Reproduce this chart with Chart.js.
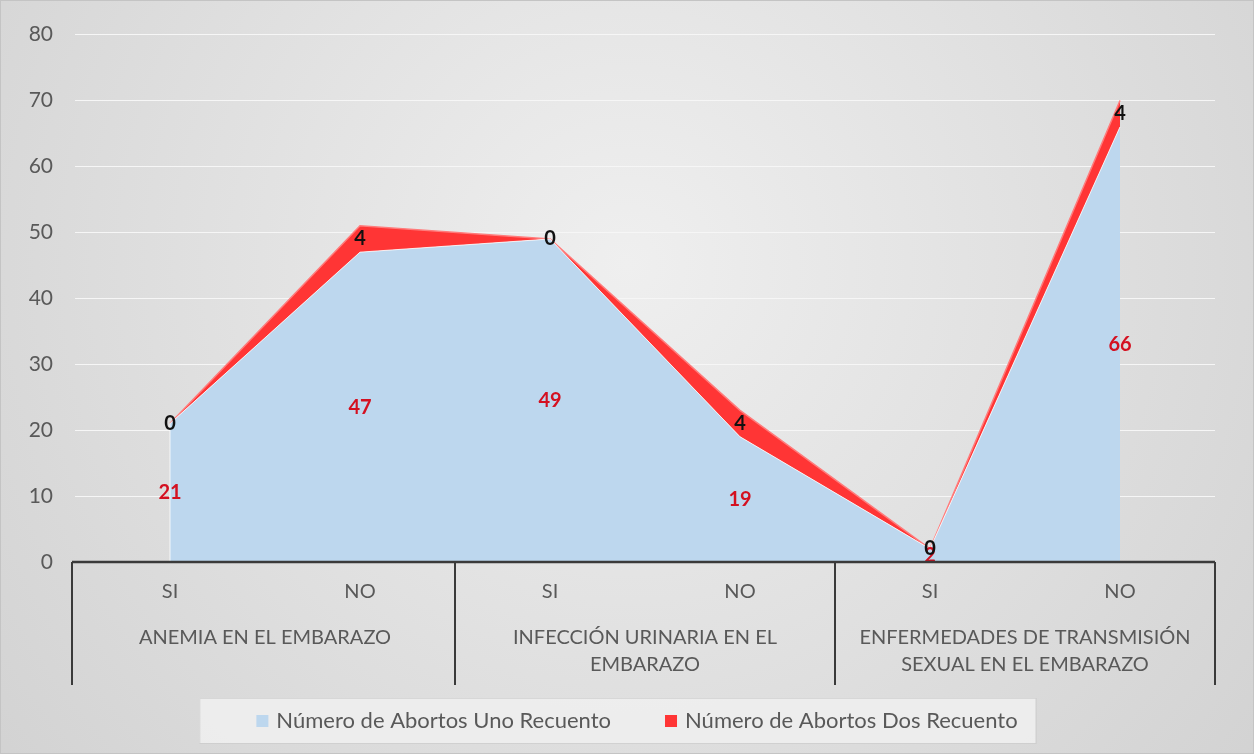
<!DOCTYPE html>
<html>
<head>
<meta charset="utf-8">
<script src="https://cdn.jsdelivr.net/npm/chart.js@4.4.1/dist/chart.umd.min.js"></script>
<style>
  html, body { margin: 0; padding: 0; background: #dcdcdc; }
  canvas { display: block; }
</style>
</head>
<body>
<canvas id="grafico" width="1254" height="754"></canvas>
<script>
// datos del gráfico
const categorias = ['SI', 'NO', 'SI', 'NO', 'SI', 'NO'];
const grupos = [
  ['ANEMIA EN EL EMBARAZO'],
  ['INFECCIÓN URINARIA EN EL', 'EMBARAZO'],
  ['ENFERMEDADES DE TRANSMISIÓN', 'SEXUAL EN EL EMBARAZO']
];
const abortosUno = [21, 47, 49, 19, 2, 66];
const abortosDos = [0, 4, 0, 4, 0, 4];
const ticksY = [0, 10, 20, 30, 40, 50, 60, 70, 80];

const fuente = 'Lato, "Noto Sans", sans-serif';
const gris = '#595959';

// fondo degradado del gráfico
const fondo = {
  id: 'fondo',
  beforeDraw(chart) {
    const ctx = chart.ctx;
    const w = chart.width, h = chart.height;
    ctx.save();
    const g = ctx.createRadialGradient(w / 2, h * 0.35, 0, w / 2, h * 0.35, w * 0.65);
    g.addColorStop(0, '#efefef');
    g.addColorStop(1, '#d2d2d2');
    ctx.fillStyle = g;
    ctx.fillRect(0, 0, w, h);
    ctx.strokeStyle = '#c4c4c4';
    ctx.lineWidth = 1;
    ctx.strokeRect(0.5, 0.5, w - 1, h - 1);
    ctx.restore();
  }
};

// etiquetas, eje de categorías agrupado y leyenda
const extras = {
  id: 'extras',
  afterDatasetsDraw(chart) {
    const ctx = chart.ctx;
    const x = chart.scales.x, y = chart.scales.y;
    const area = chart.chartArea;
    ctx.save();

    // borde izquierdo del área azul
    ctx.strokeStyle = 'rgba(255,255,255,0.8)';
    ctx.lineWidth = 1;
    const x0 = x.getPixelForValue(0);
    ctx.beginPath();
    ctx.moveTo(x0, y.getPixelForValue(0));
    ctx.lineTo(x0, y.getPixelForValue(abortosUno[0]));
    ctx.stroke();

    ctx.font = 'bold 20px ' + fuente;
    ctx.textAlign = 'center';
    ctx.textBaseline = 'middle';

    // valores de la primera serie, en el centro de su banda
    ctx.fillStyle = '#d41020';
    abortosUno.forEach((v, i) => {
      ctx.fillText(String(v), x.getPixelForValue(i), y.getPixelForValue(v / 2));
    });

    // línea del eje y separadores de grupos
    const paso = x.getPixelForValue(1) - x.getPixelForValue(0);
    ctx.strokeStyle = '#3a3a3a';
    ctx.lineWidth = 2.5;
    ctx.beginPath();
    ctx.moveTo(area.left - 3, area.bottom);
    ctx.lineTo(area.right, area.bottom);
    ctx.stroke();
    ctx.lineWidth = 2;
    for (let k = 0; k <= grupos.length; k++) {
      const px = x.getPixelForValue(k * 2) - paso / 2 - (k === 0 ? 3 : 0);
      ctx.beginPath();
      ctx.moveTo(px, area.bottom);
      ctx.lineTo(px, area.bottom + 123);
      ctx.stroke();
    }

    // valores de la segunda serie, en el centro de su banda
    ctx.fillStyle = '#111';
    abortosDos.forEach((v, i) => {
      ctx.fillText(String(v), x.getPixelForValue(i), y.getPixelForValue(abortosUno[i] + v / 2));
    });

    // etiquetas de categoría
    ctx.font = '20px ' + fuente;
    ctx.fillStyle = gris;
    categorias.forEach((c, i) => {
      ctx.fillText(c, x.getPixelForValue(i), area.bottom + 30);
    });
    grupos.forEach((lineas, k) => {
      const cx = (x.getPixelForValue(k * 2) + x.getPixelForValue(k * 2 + 1)) / 2;
      lineas.forEach((t, j) => {
        ctx.fillText(t, cx, area.bottom + 76 + j * 27);
      });
    });

    // leyenda
    ctx.font = '22px ' + fuente;
    const series = chart.data.datasets;
    const caja = 12, sep = 8, hueco = 54;
    const anchos = series.map(d => caja + sep + ctx.measureText(d.label).width);
    const total = anchos[0] + hueco + anchos[1];
    let lx = (area.left + area.right) / 2 - total / 2 - 8;
    const ly = chart.height - 34;
    ctx.fillStyle = 'rgba(240,240,240,0.85)';
    ctx.fillRect(lx - 57, ly - 22, total + 75, 45);
    ctx.strokeStyle = 'rgba(200,200,200,0.6)';
    ctx.lineWidth = 1;
    ctx.strokeRect(lx - 57 + 0.5, ly - 22 + 0.5, total + 75, 45);
    ctx.textAlign = 'left';
    series.forEach((d, i) => {
      ctx.fillStyle = d.backgroundColor;
      ctx.fillRect(lx, ly - caja / 2 + 1, caja, caja);
      ctx.fillStyle = gris;
      ctx.fillText(d.label, lx + caja + sep, ly + 1);
      lx += anchos[i] + hueco;
    });
    ctx.restore();
  }
};

new Chart(document.getElementById('grafico'), {
  type: 'line',
  data: {
    labels: categorias,
    datasets: [
      {
        label: 'Número de Abortos Uno Recuento',
        data: abortosUno,
        backgroundColor: '#bdd7ee',
        borderColor: 'rgba(255,255,255,0.8)',
        borderWidth: 1,
        fill: 'origin',
        pointRadius: 0,
        tension: 0
      },
      {
        label: 'Número de Abortos Dos Recuento',
        data: abortosDos,
        backgroundColor: '#ff3535',
        borderColor: '#ff7b7b',
        borderWidth: 1.5,
        fill: '-1',
        pointRadius: 0,
        tension: 0
      }
    ]
  },
  options: {
    responsive: false,
    animation: false,
    layout: { padding: { top: 34, right: 39, bottom: 56, left: 0 } },
    plugins: {
      legend: { display: false },
      tooltip: { enabled: false }
    },
    scales: {
      x: {
        offset: true,
        grid: { display: false },
        border: { display: false },
        ticks: { display: false },
        afterFit(s) { s.height = 136; }
      },
      y: {
        stacked: true,
        min: ticksY[0],
        max: ticksY[ticksY.length - 1],
        afterBuildTicks(s) { s.ticks = ticksY.map(v => ({ value: v })); },
        grid: { color: '#f6f6f6', lineWidth: 1, drawTicks: false },
        border: { display: false },
        ticks: { color: gris, font: { family: fuente, size: 21 }, padding: 22 },
        afterFit(s) { s.width = 75; }
      }
    }
  },
  plugins: [fondo, extras]
});
</script>
</body>
</html>
